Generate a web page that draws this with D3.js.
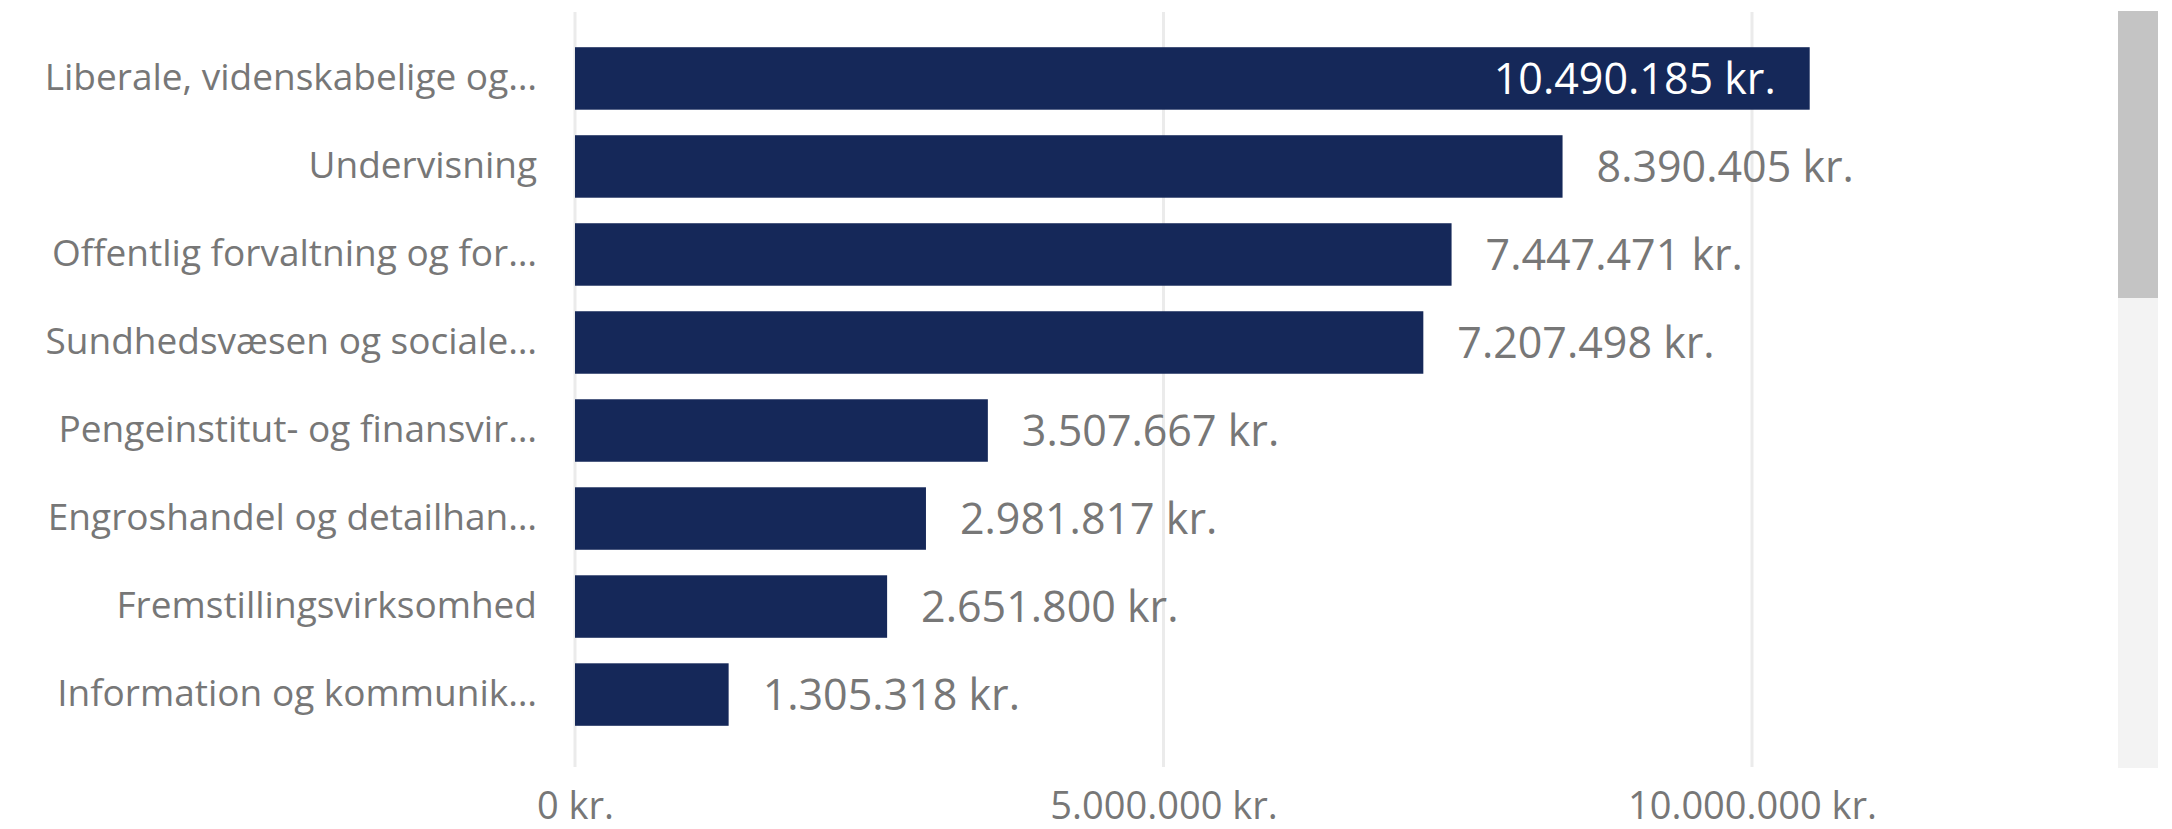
<!DOCTYPE html>
<html>
<head>
<meta charset="utf-8">
<script src="https://cdn.jsdelivr.net/npm/d3@7"></script>
<style>
  body { margin: 0; background: #fff; }
  svg { display: block; font-family: 'Open Sans', sans-serif; }
</style>
</head>
<body>
<div id="chart"></div>
<script>
// categories and values
const categories = [
  'Liberale, videnskabelige og…',
  'Undervisning',
  'Offentlig forvaltning og for…',
  'Sundhedsvæsen og sociale…',
  'Pengeinstitut- og finansvir…',
  'Engroshandel og detailhan…',
  'Fremstillingsvirksomhed',
  'Information og kommunik…',
];
const values = [10490185, 8390405, 7447471, 7207498, 3507667, 2981817, 2651800, 1305318];
const tickValues = [0, 5000000, 10000000];

const width = 2172;
const height = 829;
const margin = { top: 12, right: 92, bottom: 62, left: 575 };

const locale = d3.formatLocale({
  decimal: ',', thousands: '.', grouping: [3], currency: ['', ' kr.'],
});
const fmt = locale.format('$,.0f');

const svg = d3.select('#chart')
  .append('svg')
  .attr('width', width)
  .attr('height', height);

const x = d3.scaleLinear()
  .domain([0, 12000000])
  .range([margin.left, margin.left + 12 * 117.7]);

// bands end a bit above the gridline bottom
const y = d3.scaleBand()
  .domain(categories)
  .range([margin.top, height - margin.bottom - 6])
  .paddingInner(0.29)
  .paddingOuter(0.4);

// gridlines
svg.append('g')
  .selectAll('line')
  .data(tickValues)
  .enter()
  .append('line')
  .attr('x1', (d) => x(d))
  .attr('x2', (d) => x(d))
  .attr('y1', margin.top)
  .attr('y2', height - margin.bottom)
  .style('stroke', '#ebebeb')
  .style('stroke-width', 3);

// x axis tick labels
const xAxis = svg.append('g')
  .attr('transform', `translate(0,${height - 10})`)
  .call(d3.axisBottom(x).tickValues(tickValues).tickFormat(fmt).tickSize(0).tickPadding(0));
xAxis.select('.domain').remove();
xAxis.selectAll('text')
  .attr('dy', 0)
  .style('font-size', '38px')
  .style('font-family', "'Open Sans', sans-serif")
  .style('fill', '#777777');

// category labels
const yAxis = svg.append('g')
  .attr('transform', `translate(${margin.left - 38},0)`)
  .call(d3.axisLeft(y).tickSize(0).tickPadding(0));
yAxis.select('.domain').remove();
yAxis.selectAll('text')
  .style('font-size', '37px')
  .style('font-family', "'Open Sans', sans-serif")
  .style('fill', '#777777');

// bars
svg.append('g')
  .selectAll('rect')
  .data(values)
  .enter()
  .append('rect')
  .attr('x', x(0))
  .attr('y', (d, i) => y(categories[i]))
  .attr('width', (d) => x(d) - x(0))
  .attr('height', y.bandwidth())
  .style('fill', '#152859');

// data labels: outside end, inside when there is no room
const plotRight = 2090;
svg.append('g')
  .selectAll('text')
  .data(values)
  .enter()
  .append('text')
  .attr('y', (d, i) => y(categories[i]) + y.bandwidth() / 2)
  .attr('dy', '0.36em')
  .style('font-size', '43px')
  .text((d) => fmt(d))
  .each((d, i, nodes) => {
    const t = d3.select(nodes[i]);
    const w = nodes[i].getComputedTextLength();
    if (x(d) + 34 + w > plotRight) {
      t.attr('x', x(d) - 34).attr('text-anchor', 'end').style('fill', '#ffffff');
    } else {
      t.attr('x', x(d) + 34).attr('text-anchor', 'start').style('fill', '#777777');
    }
  });

// scrollbar
svg.append('rect')
  .attr('x', 2118).attr('y', margin.top - 1)
  .attr('width', 40).attr('height', height - margin.bottom - margin.top + 2)
  .style('fill', '#f3f3f3');
svg.append('rect')
  .attr('x', 2118).attr('y', margin.top - 1)
  .attr('width', 40).attr('height', 287)
  .style('fill', '#c4c4c4');
</script>
</body>
</html>
